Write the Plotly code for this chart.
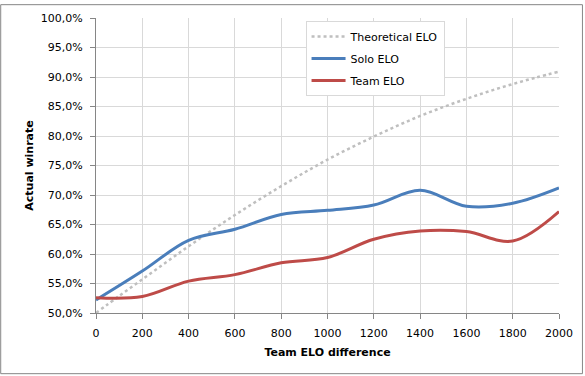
import plotly.graph_objects as go

# Data
theo_x = [0, 100, 200, 300, 400, 500, 600, 700, 800, 900, 1000,
          1100, 1200, 1300, 1400, 1500, 1600, 1700, 1800, 1900, 2000]
theo_y = [0.500, 0.529, 0.557, 0.585, 0.613, 0.640, 0.666, 0.691, 0.715, 0.738, 0.760,
          0.780, 0.799, 0.817, 0.834, 0.849, 0.863, 0.876, 0.888, 0.899, 0.909]

elo_x = [0, 200, 400, 600, 800, 1000, 1200, 1400, 1600, 1800, 2000]
solo_y = [0.522, 0.571, 0.623, 0.642, 0.667, 0.674, 0.683, 0.708, 0.681, 0.686, 0.712]
team_y = [0.526, 0.528, 0.554, 0.565, 0.585, 0.594, 0.625, 0.639, 0.638, 0.622, 0.672]

x_ticks = [0, 200, 400, 600, 800, 1000, 1200, 1400, 1600, 1800, 2000]
x_tick_labels = ["0", "200", "400", "600", "800", "1000", "1200", "1400", "1600", "1800", "2000"]
y_ticks = [0.50, 0.55, 0.60, 0.65, 0.70, 0.75, 0.80, 0.85, 0.90, 0.95, 1.00]
y_tick_labels = ["50,0%", "55,0%", "60,0%", "65,0%", "70,0%", "75,0%",
                 "80,0%", "85,0%", "90,0%", "95,0%", "100,0%"]

FONT = "DejaVu Sans"

fig = go.Figure()
fig.add_trace(go.Scatter(x=theo_x, y=theo_y, mode="lines", name="Theoretical ELO",
                         legendgroup="a",
                         line=dict(color="#BFBFBF", width=2.5, dash="dot", shape="spline")))
fig.add_trace(go.Scatter(x=elo_x, y=solo_y, mode="lines", name="Solo ELO",
                         legendgroup="b",
                         line=dict(color="#4A7EBB", width=3, shape="spline", smoothing=1)))
fig.add_trace(go.Scatter(x=elo_x, y=team_y, mode="lines", name="Team ELO",
                         legendgroup="c",
                         line=dict(color="#BE4B48", width=3, shape="spline", smoothing=1)))

L, R, T, B = 96, 25, 14, 63
W, H = 585, 376
pw, ph = W - L - R, H - T - B

fig.update_layout(
    width=W, height=H,
    margin=dict(l=L, r=R, t=T, b=B),
    paper_bgcolor="white", plot_bgcolor="white",
    font=dict(family=FONT, size=11, color="#000000"),
    showlegend=True,
    legend=dict(x=(306 - L) / pw, y=(H - B - 17) / ph, xanchor="left", yanchor="top",
                bgcolor="white", bordercolor="#D9D9D9", borderwidth=1,
                font=dict(family=FONT, size=11), tracegroupgap=3,
                itemwidth=34),
    xaxis=dict(range=[0, 2000], tickvals=x_ticks, ticktext=x_tick_labels,
               showgrid=True, gridcolor="#D9D9D9", gridwidth=1,
               showline=True, linecolor="#868686", linewidth=1,
               ticks="outside", ticklen=5, tickcolor="#868686",
               ticklabelstandoff=5,
               zeroline=False,
               title=dict(text="<b>Team ELO difference</b>", standoff=9,
                          font=dict(family=FONT, size=11))),
    yaxis=dict(range=[0.5, 1.0], tickvals=y_ticks, ticktext=y_tick_labels,
               showgrid=True, gridcolor="#D9D9D9", gridwidth=1,
               showline=True, linecolor="#868686", linewidth=1,
               ticks="outside", ticklen=5, tickcolor="#868686",
               ticklabelstandoff=5,
               zeroline=False,
               title=dict(text="<b>Actual winrate</b>", standoff=4,
                          font=dict(family=FONT, size=11))),
    shapes=[dict(type="rect", xref="paper", yref="paper",
                 x0=(0.5 - L) / pw, x1=(583.5 - L) / pw,
                 y0=(H - B - 374.5) / ph, y1=(H - B - 0.5) / ph,
                 line=dict(color="#868686", width=1), fillcolor="rgba(0,0,0,0)",
                 layer="below")],
)

fig.write_html("out.html", config={"displayModeBar": False},
               post_script="document.body.style.margin='0';document.body.style.overflow='hidden';")
